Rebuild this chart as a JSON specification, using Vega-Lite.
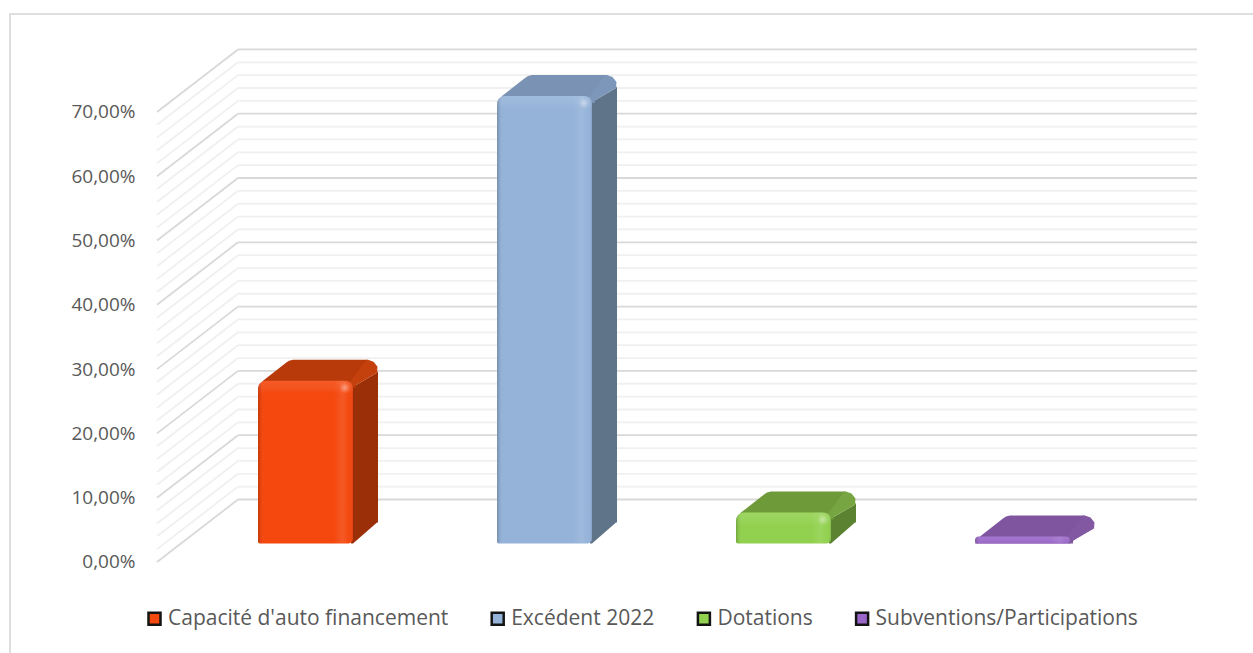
{
  "$schema": "https://vega.github.io/schema/vega-lite/v6.json",
  "width": 1250,
  "height": 649,
  "autosize": {"type": "none"},
  "padding": {"left": 10, "top": 14, "right": 0, "bottom": 0},
  "background": "#ffffff",
  "config": {
    "view": {"stroke": "#dedede", "strokeWidth": 2},
    "axisY": {
      "domain": false,
      "ticks": false,
      "grid": false,
      "labelPadding": 0,
      "labelFont": "Open Sans",
      "labelFontSize": 19,
      "labelColor": "#595959"
    }
  },
  "datasets": {
    "niveaux": [
      {"niveau": 0}, {"niveau": 2}, {"niveau": 4}, {"niveau": 6}, {"niveau": 8},
      {"niveau": 10}, {"niveau": 12}, {"niveau": 14}, {"niveau": 16}, {"niveau": 18},
      {"niveau": 20}, {"niveau": 22}, {"niveau": 24}, {"niveau": 26}, {"niveau": 28},
      {"niveau": 30}, {"niveau": 32}, {"niveau": 34}, {"niveau": 36}, {"niveau": 38},
      {"niveau": 40}, {"niveau": 42}, {"niveau": 44}, {"niveau": 46}, {"niveau": 48},
      {"niveau": 50}, {"niveau": 52}, {"niveau": 54}, {"niveau": 56}, {"niveau": 58},
      {"niveau": 60}, {"niveau": 62}, {"niveau": 64}, {"niveau": 66}, {"niveau": 68},
      {"niveau": 70}
    ],
    "series": [
      {"serie": "Capacité d'auto financement", "valeur": 25.3, "rang": 0},
      {"serie": "Excédent 2022", "valeur": 69.6, "rang": 1},
      {"serie": "Dotations", "valeur": 4.8, "rang": 2},
      {"serie": "Subventions/Participations", "valeur": 1.1, "rang": 3}
    ]
  },
  "data": {"name": "series"},
  "layer": [
    {
      "data": {"name": "niveaux"},
      "transform": [
        {"filter": "datum.niveau % 10 !== 0"},
        {"calculate": "datum.niveau + 9.72", "as": "fond"},
        {"calculate": "-0.4226", "as": "avant"},
        {"calculate": "-0.0837", "as": "arriere"}
      ],
      "mark": {"type": "rule", "strokeWidth": 1.8, "color": "#f0f0f0"},
      "encoding": {
        "x": {"field": "avant", "type": "quantitative", "axis": null, "scale": {"domain": [-1.0377, 4.1925], "nice": false, "zero": false}},
        "x2": {"field": "arriere"},
        "y": {
          "field": "niveau",
          "type": "quantitative",
          "title": null,
          "scale": {"domain": [-15.71, 85.23], "nice": false, "zero": false},
          "axis": {
            "orient": "left",
            "offset": -125,
            "values": [0, 10, 20, 30, 40, 50, 60, 70],
            "labelExpr": "replace(format(datum.value, '.2f'), '.', ',') + '%'"
          }
        },
        "y2": {"field": "fond"}
      }
    },
    {
      "data": {"name": "niveaux"},
      "transform": [
        {"filter": "datum.niveau % 10 !== 0"},
        {"calculate": "datum.niveau + 9.72", "as": "fond"},
        {"calculate": "-0.0837", "as": "arriere"},
        {"calculate": "3.9289", "as": "droite"}
      ],
      "mark": {"type": "rule", "strokeWidth": 1.8, "color": "#f0f0f0"},
      "encoding": {
        "x": {"field": "arriere", "type": "quantitative", "axis": null},
        "x2": {"field": "droite"},
        "y": {"field": "fond", "type": "quantitative", "title": null}
      }
    },
    {
      "data": {"name": "niveaux"},
      "transform": [
        {"filter": "datum.niveau % 10 === 0"},
        {"calculate": "datum.niveau + 9.72", "as": "fond"},
        {"calculate": "-0.4226", "as": "avant"},
        {"calculate": "-0.0837", "as": "arriere"}
      ],
      "mark": {"type": "rule", "strokeWidth": 1.8, "color": "#d9d9d9"},
      "encoding": {
        "x": {"field": "avant", "type": "quantitative", "axis": null},
        "x2": {"field": "arriere"},
        "y": {"field": "niveau", "type": "quantitative", "title": null},
        "y2": {"field": "fond"}
      }
    },
    {
      "data": {"name": "niveaux"},
      "transform": [
        {"filter": "datum.niveau % 10 === 0"},
        {"calculate": "datum.niveau + 9.72", "as": "fond"},
        {"calculate": "-0.0837", "as": "arriere"},
        {"calculate": "3.9289", "as": "droite"}
      ],
      "mark": {"type": "rule", "strokeWidth": 1.8, "color": "#d9d9d9"},
      "encoding": {
        "x": {"field": "arriere", "type": "quantitative", "axis": null},
        "x2": {"field": "droite"},
        "y": {"field": "fond", "type": "quantitative", "title": null}
      }
    },
    {
      "transform": [
        {"calculate": "2.88 + datum.valeur", "as": "sommet"},
        {"calculate": "['#9b2f08', '#607489', '#5a8230', '#7f55a0'][datum.rang]", "as": "teinte"},
        {"calculate": "[[93, 0, -6], [95, 0, -6], [119, 21, 8], [120, 21, 10]]", "as": "p"},
        {"flatten": ["p"]},
        {"calculate": "datum.rang + datum.p[0] / 239", "as": "px"},
        {"calculate": "2.88 + datum.p[1] / 6.43", "as": "bas"},
        {"calculate": "max(datum.bas, datum.sommet + datum.p[2] / 6.43)", "as": "haut"}
      ],
      "mark": {"type": "area", "orient": "vertical"},
      "encoding": {
        "x": {"field": "px", "type": "quantitative", "axis": null},
        "y": {"field": "haut", "type": "quantitative", "title": null},
        "y2": {"field": "bas"},
        "fill": {"field": "teinte", "type": "nominal", "scale": null, "legend": null},
        "detail": {"field": "serie"}
      }
    },
    {
      "transform": [
        {"calculate": "2.88 + datum.valeur", "as": "sommet"},
        {"calculate": "['#b8390a', '#7a93b5', '#6f9a3a', '#7f55a0'][datum.rang]", "as": "teinte"},
        {"calculate": "[[-7, 0, 98], [0, 5, 98], [18, 28, 110], [20, 31, 110], [21, 35, 109]]", "as": "p"},
        {"flatten": ["p"]},
        {"calculate": "max(2.88, datum.sommet + datum.p[0] / 6.43)", "as": "py"},
        {"calculate": "datum.rang + datum.p[1] / 239", "as": "gauche"},
        {"calculate": "datum.rang + datum.p[2] / 239", "as": "droite"}
      ],
      "mark": {"type": "area", "orient": "horizontal"},
      "encoding": {
        "y": {"field": "py", "type": "quantitative", "title": null},
        "x": {"field": "gauche", "type": "quantitative", "axis": null},
        "x2": {"field": "droite"},
        "fill": {"field": "teinte", "type": "nominal", "scale": null, "legend": null},
        "detail": {"field": "serie"}
      }
    },
    {
      "transform": [
        {"calculate": "2.88 + datum.valeur", "as": "sommet"},
        {"calculate": "['#c4400c', '#7d97ba', '#76a541', '#8258a3'][datum.rang]", "as": "teinte"},
        {"calculate": "[[-6, 95, 95], [-1, 92, 103.6], [8, 98.8, 119], [14, 103, 119.5], [19, 107, 115.5], [21, 108, 110]]", "as": "p"},
        {"flatten": ["p"]},
        {"calculate": "max(2.88, datum.sommet + datum.p[0] / 6.43)", "as": "py"},
        {"calculate": "datum.rang + datum.p[1] / 239", "as": "gauche"},
        {"calculate": "datum.rang + datum.p[2] / 239", "as": "droite"}
      ],
      "mark": {"type": "area", "orient": "horizontal"},
      "encoding": {
        "y": {"field": "py", "type": "quantitative", "title": null},
        "x": {"field": "gauche", "type": "quantitative", "axis": null},
        "x2": {"field": "droite"},
        "fill": {"field": "teinte", "type": "nominal", "scale": null, "legend": null},
        "detail": {"field": "serie"}
      }
    },
    {
      "transform": [
        {"calculate": "2.88 + datum.valeur", "as": "sommet"},
        {"calculate": "2.88", "as": "socle"},
        {"calculate": "datum.rang + 95 / 239", "as": "finBarre"}
      ],
      "mark": {
        "type": "rect",
        "cornerRadiusTopLeft": 8,
        "cornerRadiusTopRight": 8,
        "cornerRadiusBottomLeft": 2,
        "cornerRadiusBottomRight": 5
      },
      "encoding": {
        "x": {"field": "rang", "type": "quantitative", "axis": null},
        "x2": {"field": "finBarre"},
        "y": {"field": "sommet", "type": "quantitative", "title": null},
        "y2": {"field": "socle"},
        "color": {
          "field": "serie",
          "type": "nominal",
          "scale": {
            "domain": ["Capacité d'auto financement", "Excédent 2022", "Dotations", "Subventions/Participations"],
            "range": ["#f4480f", "#95b3d9", "#92d14f", "#9a67c8"]
          },
          "legend": {
            "orient": "none",
            "legendX": 134,
            "legendY": 594,
            "direction": "horizontal",
            "columns": 4,
            "columnPadding": 37.2,
            "title": null,
            "symbolType": "square",
            "symbolSize": 144,
            "symbolStrokeWidth": 2.5,
            "symbolStrokeColor": "#141414",
            "symbolOpacity": 1,
            "labelOffset": 3,
            "labelFont": "Open Sans",
            "labelFontSize": 21,
            "labelColor": "#595959",
            "labelLimit": 400
          }
        }
      }
    },
    {
      "transform": [
        {"calculate": "2.88 + datum.valeur", "as": "sommet"},
        {"calculate": "2.88", "as": "socle"},
        {"calculate": "datum.rang + 95 / 239", "as": "finBarre"}
      ],
      "mark": {
        "type": "rect",
        "cornerRadiusTopLeft": 8,
        "cornerRadiusTopRight": 8,
        "cornerRadiusBottomLeft": 2,
        "cornerRadiusBottomRight": 5,
        "fill": {
          "gradient": "linear",
          "x1": 0, "x2": 1, "y1": 0, "y2": 0,
          "stops": [
            {"offset": 0, "color": "rgba(0,0,0,0.2)"},
            {"offset": 0.03, "color": "rgba(0,0,0,0.05)"},
            {"offset": 0.07, "color": "rgba(255,255,255,0)"},
            {"offset": 0.8, "color": "rgba(255,255,255,0)"},
            {"offset": 0.89, "color": "rgba(255,255,255,0.09)"},
            {"offset": 0.96, "color": "rgba(255,255,255,0)"},
            {"offset": 1, "color": "rgba(0,0,0,0.1)"}
          ]
        }
      },
      "encoding": {
        "x": {"field": "rang", "type": "quantitative", "axis": null},
        "x2": {"field": "finBarre"},
        "y": {"field": "sommet", "type": "quantitative", "title": null},
        "y2": {"field": "socle"}
      }
    },
    {
      "transform": [
        {"calculate": "2.88 + datum.valeur", "as": "sommet"},
        {"calculate": "max(2.88, datum.sommet - 13 / 6.43)", "as": "finBiseau"},
        {"calculate": "datum.rang + 95 / 239", "as": "finBarre"}
      ],
      "mark": {
        "type": "rect",
        "cornerRadiusTopLeft": 8,
        "cornerRadiusTopRight": 8,
        "fill": {
          "gradient": "linear",
          "x1": 0, "x2": 0, "y1": 0, "y2": 1,
          "stops": [
            {"offset": 0, "color": "rgba(255,255,255,0.1)"},
            {"offset": 0.6, "color": "rgba(255,255,255,0.06)"},
            {"offset": 1, "color": "rgba(255,255,255,0)"}
          ]
        }
      },
      "encoding": {
        "x": {"field": "rang", "type": "quantitative", "axis": null},
        "x2": {"field": "finBarre"},
        "y": {"field": "sommet", "type": "quantitative", "title": null},
        "y2": {"field": "finBiseau"}
      }
    },
    {
      "transform": [
        {"filter": "datum.valeur > 2"},
        {"calculate": "datum.rang + 87 / 239", "as": "refletX"},
        {"calculate": "2.88 + datum.valeur - 7 / 6.43", "as": "refletY"}
      ],
      "mark": {
        "type": "point",
        "filled": true,
        "size": 130,
        "opacity": 1,
        "fill": {
          "gradient": "radial",
          "x1": 0.5, "y1": 0.5, "r1": 0, "x2": 0.5, "y2": 0.5, "r2": 0.5,
          "stops": [
            {"offset": 0, "color": "rgba(255,255,255,0.4)"},
            {"offset": 1, "color": "rgba(255,255,255,0)"}
          ]
        }
      },
      "encoding": {
        "x": {"field": "refletX", "type": "quantitative", "axis": null},
        "y": {"field": "refletY", "type": "quantitative", "title": null}
      }
    }
  ]
}
